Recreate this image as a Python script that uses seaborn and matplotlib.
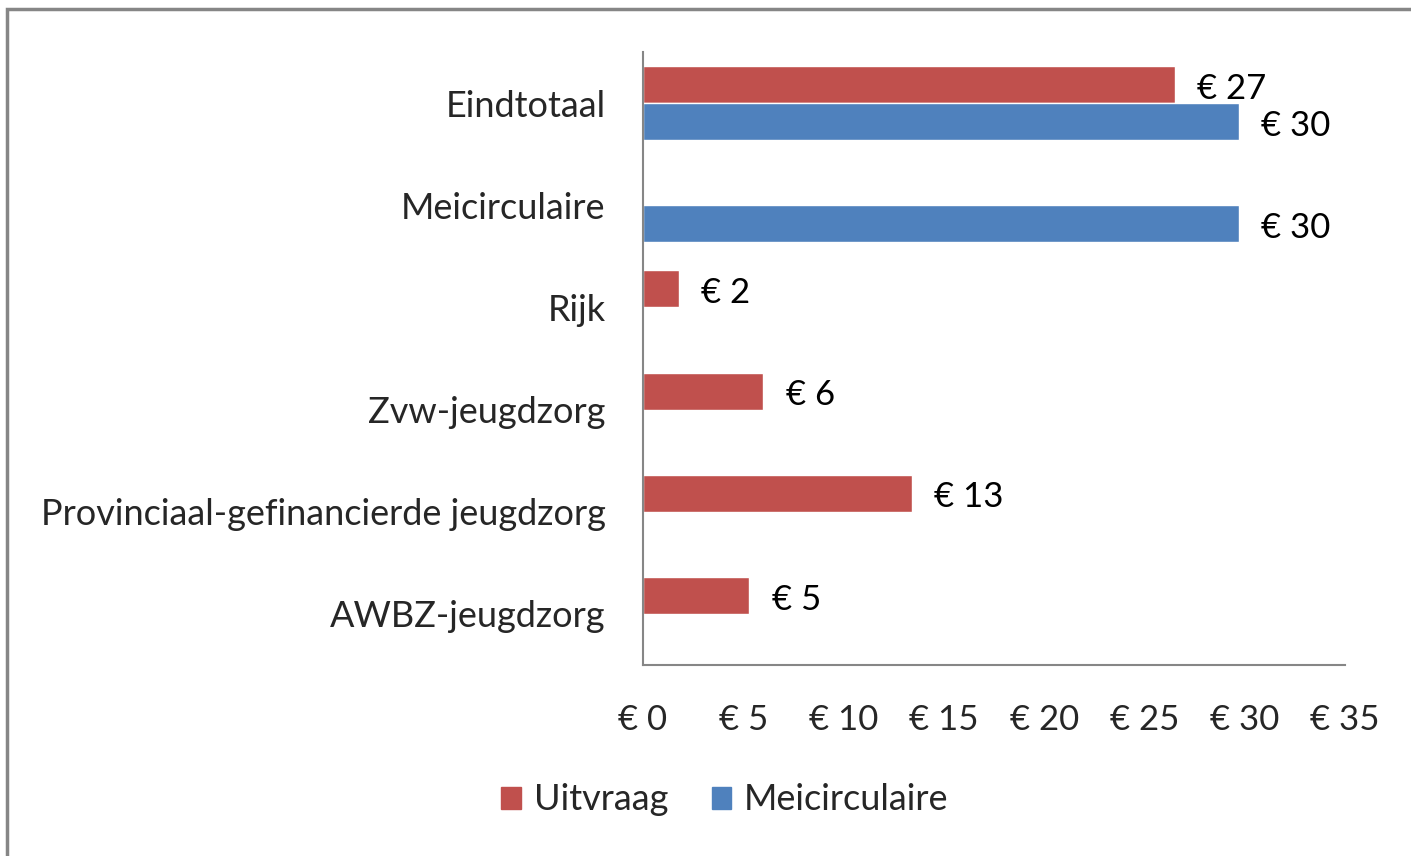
import pandas as pd
import numpy as np
import matplotlib
matplotlib.use("Agg")
import matplotlib.pyplot as plt
from matplotlib.patches import Rectangle
import seaborn as sns

# === data (millions of euro) ===
categories = ["Eindtotaal", "Meicirculaire", "Rijk", "Zvw-jeugdzorg",
              "Provinciaal-gefinancierde jeugdzorg", "AWBZ-jeugdzorg"]
uitvraag = [26.5, 0, 1.8, 6.0, 13.4, 5.3]
meicirculaire = [29.7, 29.7, 0, 0, 0, 0]
series_names = ["Uitvraag", "Meicirculaire"]
colors = ["#C0504D", "#4F81BD"]
x_ticks = [0, 5, 10, 15, 20, 25, 30, 35]

df = pd.DataFrame({
    "categorie": categories * 2,
    "reeks": [series_names[0]] * len(categories) + [series_names[1]] * len(categories),
    "waarde": uitvraag + meicirculaire,
})

sns.set_style("white")
plt.rcParams["font.family"] = ["Lato", "DejaVu Sans"]

fig = plt.figure(figsize=(14.11, 8.56), dpi=100)
ax = fig.add_axes([643 / 1411, 1 - 665 / 856, 702 / 1411, 613 / 856])

sns.barplot(data=df, x="waarde", y="categorie", hue="reeks", order=categories,
            hue_order=series_names, palette=colors, width=0.725, orient="h",
            saturation=1, errorbar=None, ax=ax, legend=False)

# data labels (Excel rounds half up), skip the empty bars
for cont, vals in zip(ax.containers, [uitvraag, meicirculaire]):
    labels = [f"€ {int(v + 0.5)}" if v > 0 else "" for v in vals]
    anns = ax.bar_label(cont, labels=labels, padding=16, fontsize=25, color="black")
    for a in anns:
        a.xyann = (16, -3)  # Excel puts them a touch below the bar centre

ax.set_xlim(0, 35)
ax.set_xticks(x_ticks)
ax.set_xticklabels([f"€ {t}" for t in x_ticks])
ax.set_xlabel("")
ax.set_ylabel("")
ax.tick_params(axis="x", length=0, pad=28, labelsize=25)
ax.tick_params(axis="y", length=0, pad=27, labelsize=26)

for side in ["top", "right"]:
    ax.spines[side].set_visible(False)
for side in ["left", "bottom"]:
    ax.spines[side].set_color("#868686")
    ax.spines[side].set_linewidth(1.5)

# legend at the bottom
handles = [Rectangle((0, 0), 1, 1, color=c) for c in colors]
fig.legend(handles, series_names, loc="center", bbox_to_anchor=(725 / 1411, 1 - 800 / 856),
           ncol=2, frameon=False, fontsize=26, handlelength=0.55, handleheight=0.55,
           handletextpad=0.35, columnspacing=1.2)

# outer chart border (only left and top visible in the crop)
fig.patches.append(Rectangle((7 / 1411, -0.1), 1.2, 1 - 9 / 856 + 0.1,
                             transform=fig.transFigure, fill=False,
                             edgecolor="#868686", linewidth=2.5))

fig.savefig("out.png", dpi=100)
